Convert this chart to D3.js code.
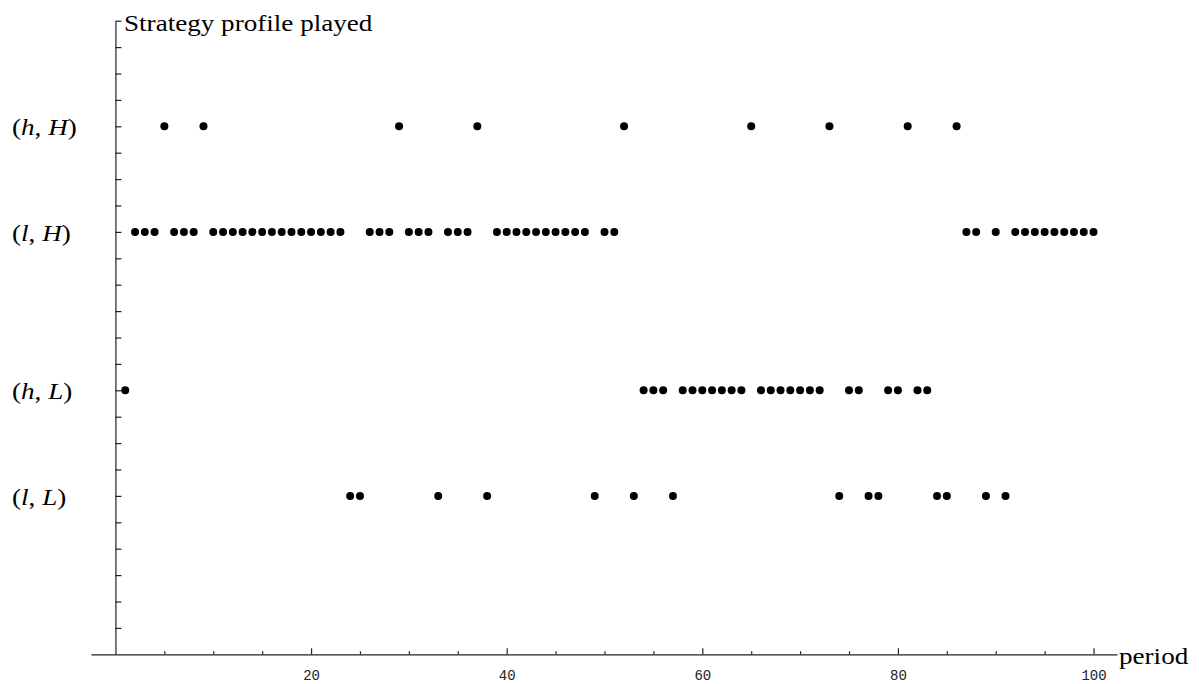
<!DOCTYPE html>
<html>
<head>
<meta charset="utf-8">
<script src="https://cdn.jsdelivr.net/npm/d3@7"></script>
<style>
  body { margin: 0; background: #fff; }
  svg { display: block; }
  .serif { font-family: "Liberation Serif", "Times New Roman", serif; }
  .xaxis text { font-family: "Liberation Mono", "Courier New", monospace; font-size: 14px; fill: #222; }
</style>
</head>
<body>
<svg id="chart" width="1199" height="684"></svg>
<script>
// periods (1..100) in which each strategy profile was played
var periods_hH = [5, 9, 29, 37, 52, 65, 73, 81, 86];
var periods_lH = [2, 3, 4, 6, 7, 8, 10, 11, 12, 13, 14, 15, 16, 17, 18, 19, 20, 21, 22, 23,
                  26, 27, 28, 30, 31, 32, 34, 35, 36, 39, 40, 41, 42, 43, 44, 45, 46, 47, 48,
                  50, 51, 87, 88, 90, 92, 93, 94, 95, 96, 97, 98, 99, 100];
var periods_hL = [1, 54, 55, 56, 58, 59, 60, 61, 62, 63, 64, 66, 67, 68, 69, 70, 71, 72,
                  75, 76, 79, 80, 82, 83];
var periods_lL = [24, 25, 33, 38, 49, 53, 57, 74, 77, 78, 84, 85, 89, 91];

// profile labels and their level on the vertical axis
var profiles = [
  { a: "h", b: "H", level: 20, periods: periods_hH },
  { a: "l", b: "H", level: 16, periods: periods_lH },
  { a: "h", b: "L", level: 10, periods: periods_hL },
  { a: "l", b: "L", level: 6,  periods: periods_lL }
];
var xMajorTicks = [20, 40, 60, 80, 100];
var xMinorTicks = d3.range(5, 101, 5).filter(function(d) { return d % 20 !== 0; });
var yTicks = d3.range(1, 25);

var svg = d3.select("#chart");

var x = d3.scaleLinear().domain([-2.5, 102.4]).range([91, 1117]);
var y = d3.scaleLinear().domain([0, 24]).range([654.3, 20.7]);

var axisColor = "#222";

// x axis: minor ticks, then major ticks with labels
var xMinor = svg.append("g")
  .attr("transform", "translate(0," + y(0) + ")")
  .call(d3.axisBottom(x).tickValues(xMinorTicks).tickSize(-3).tickSizeOuter(0).tickFormat(""));
var xMajor = svg.append("g")
  .attr("class", "xaxis")
  .attr("transform", "translate(0," + y(0) + ")")
  .call(d3.axisBottom(x).tickValues(xMajorTicks).tickSize(-6).tickSizeOuter(0).tickPadding(16)
    .tickFormat(d3.format("d")));
xMajor.select(".domain").remove();
xMajor.selectAll("text").attr("font-family", null);
[xMinor, xMajor].forEach(function(g) {
  g.selectAll("path, line").attr("stroke", axisColor).attr("stroke-width", 1.2);
});

// y axis: plain ticks pointing right
var yAxis = svg.append("g")
  .attr("transform", "translate(" + x(0) + ",0)")
  .call(d3.axisLeft(y).tickValues(yTicks).tickSize(-6).tickSizeOuter(0).tickFormat(""));
yAxis.selectAll("path, line").attr("stroke", axisColor).attr("stroke-width", 1.2);

// profile labels, (h, H) etc.
var labels = svg.append("g").attr("class", "serif");
profiles.forEach(function(p) {
  var t = labels.append("text")
    .attr("transform", "translate(12," + (y(p.level) + 9) + ") scale(1.13,1)")
    .attr("font-size", 24)
    .attr("fill", "#000");
  t.append("tspan").text("(");
  t.append("tspan").attr("font-style", "italic").text(p.a);
  t.append("tspan").text(", ");
  t.append("tspan").attr("font-style", "italic").text(p.b);
  t.append("tspan").text(")");
});

// axis titles
svg.append("text")
  .attr("class", "serif")
  .attr("transform", "translate(124,30.5) scale(1.13,1)")
  .attr("font-size", 24)
  .text("Strategy profile played");
svg.append("text")
  .attr("class", "serif")
  .attr("transform", "translate(1119,664) scale(1.13,1)")
  .attr("font-size", 24)
  .text("period");

// points
var pts = [];
profiles.forEach(function(p) {
  p.periods.forEach(function(t) { pts.push({ period: t, level: p.level }); });
});
svg.append("g")
  .selectAll("circle")
  .data(pts)
  .join("circle")
  .attr("cx", function(d) { return x(d.period); })
  .attr("cy", function(d) { return y(d.level); })
  .attr("r", 4)
  .attr("fill", "#000");
</script>
</body>
</html>
